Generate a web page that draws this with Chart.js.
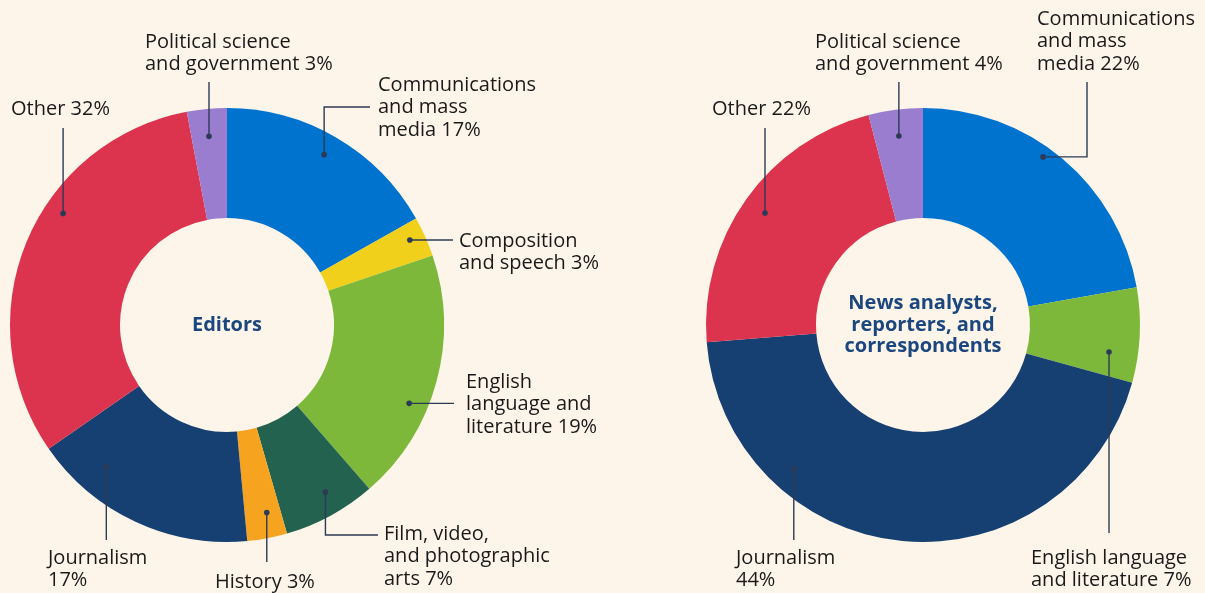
<!DOCTYPE html>
<html>
<head>
<meta charset="utf-8">
<script src="https://cdn.jsdelivr.net/npm/chart.js@4.4.1/dist/chart.umd.min.js"></script>
<style>
  html, body { margin: 0; padding: 0; background: #FDF5E9; }
  #wrap { position: relative; width: 1205px; height: 593px; overflow: hidden; background: #FDF5E9; }
  #wrap canvas { position: absolute; left: 0; top: 0; }
</style>
</head>
<body>
<div id="wrap">
  <canvas id="editors" width="1205" height="593"></canvas>
  <canvas id="news" width="1205" height="593"></canvas>
</div>
<script>
// ---- Editors: degree fields (share of workers, %) ----
const editorFields = [
  'Communications and mass media', 'Composition and speech',
  'English language and literature', 'Film, video, and photographic arts',
  'History', 'Journalism', 'Other', 'Political science and government'
];
const editorShares = [17, 3, 19, 7, 3, 17, 32, 3];
// label lines; {v} is replaced by the share
const editorLabelLines = [
  ['Communications', 'and mass', 'media {v}%'],
  ['Composition', 'and speech {v}%'],
  ['English', 'language and', 'literature {v}%'],
  ['Film, video,', 'and photographic', 'arts {v}%'],
  ['History {v}%'],
  ['Journalism', '{v}%'],
  ['Other {v}%'],
  ['Political science', 'and government {v}%']
];

// ---- News analysts, reporters, and correspondents ----
const newsFields = [
  'Communications and mass media', 'English language and literature',
  'Journalism', 'Other', 'Political science and government'
];
const newsShares = [22, 7, 44, 22, 4];
const newsLabelLines = [
  ['Communications', 'and mass', 'media {v}%'],
  ['English language', 'and literature {v}%'],
  ['Journalism', '{v}%'],
  ['Other {v}%'],
  ['Political science', 'and government {v}%']
];

// ---- palette per field ----
const fieldColors = {
  'Communications and mass media': '#0073CF',
  'Composition and speech': '#F1D01C',
  'English language and literature': '#7DB83A',
  'Film, video, and photographic arts': '#246250',
  'History': '#F6A320',
  'Journalism': '#163F72',
  'Other': '#DC344E',
  'Political science and government': '#9A7DCF'
};

const TEXT = '#1A1A1A';
const LEADER = '#2C3A55';
const CENTER_TEXT = '#1B477E';
const FONT = '"Open Sans", "Noto Sans", sans-serif';

// Callout geometry: t = position along the slice (0..1), f = position across
// the ring (0 inner .. 1 outer); path steps move vertically ('v') or
// horizontally ('h') to an offset from the chart centre; text anchored
// at (tx, ty) offset from centre (left edge, middle of first line).
const editorCallouts = [
  { t: 0.49, f: 0.81, path: [['v', -218], ['h', 143]], tx: 151, ty: -240 },
  { t: 0.42, f: 0.86, path: [['h', 226]], tx: 232, ty: -84 },
  { t: 0.62, f: 0.83, path: [['h', 227]], tx: 239, ty: 57 },
  { t: 0.42, f: 0.79, path: [['v', 210], ['h', 151]], tx: 157, ty: 209 },
  { t: 0.38, f: 0.77, path: [['v', 237]], tx: -12, ty: 257 },
  { t: 0.755, f: 0.72, path: [['v', 215]], tx: -179, ty: 233 },
  { t: 0.605, f: 0.83, path: [['v', -197]], tx: -216, ty: -216 },
  { t: 0.49, f: 0.75, path: [['v', -243]], tx: -82, ty: -283 }
];
const newsCallouts = [
  { t: 0.444, f: 0.905, path: [['h', 164], ['v', -243]], tx: 114, ty: -306 },
  { t: 0.717, f: 0.736, path: [['v', 208]], tx: 108, ty: 233 },
  { t: 0.728, f: 0.785, path: [['v', 215]], tx: -187, ty: 233 },
  { t: 0.4985, f: 0.788, path: [['v', -197]], tx: -211, ty: -216 },
  { t: 0.50, f: 0.76, path: [['v', -243]], tx: -108, ty: -283 }
];

const calloutPlugin = {
  id: 'callouts',
  afterDatasetsDraw(chart, args, opts) {
    const ctx = chart.ctx;
    const meta = chart.getDatasetMeta(0);
    const values = chart.data.datasets[0].data;
    ctx.save();
    opts.items.forEach((item, i) => {
      const arc = meta.data[i];
      const p = arc.getProps(['x', 'y', 'startAngle', 'endAngle', 'innerRadius', 'outerRadius'], true);
      const a = p.startAngle + (p.endAngle - p.startAngle) * item.t;
      const r = p.innerRadius + (p.outerRadius - p.innerRadius) * item.f;
      const dx = p.x + Math.cos(a) * r;
      const dy = p.y + Math.sin(a) * r;
      // leader line
      let px = dx, py = dy;
      ctx.beginPath();
      ctx.moveTo(px, py);
      item.path.forEach(([dir, off]) => {
        if (dir === 'v') py = p.y + off; else px = p.x + off;
        ctx.lineTo(px, py);
      });
      ctx.strokeStyle = LEADER;
      ctx.lineWidth = 1.4;
      ctx.stroke();
      // dot at the slice end of the leader
      ctx.beginPath();
      ctx.arc(dx, dy, 2.8, 0, Math.PI * 2);
      ctx.fillStyle = LEADER;
      ctx.fill();
      // label text
      ctx.fillStyle = TEXT;
      ctx.font = '20px ' + FONT;
      ctx.textAlign = 'left';
      ctx.textBaseline = 'middle';
      opts.lines[i].forEach((ln, k) => {
        ctx.fillText(ln.replace('{v}', values[i]), p.x + item.tx, p.y + item.ty + k * 22.5);
      });
    });
    // centre title
    const c = meta.data[0];
    ctx.fillStyle = CENTER_TEXT;
    ctx.font = 'bold 20px ' + FONT;
    ctx.textAlign = 'center';
    ctx.textBaseline = 'middle';
    const title = opts.title;
    const lh = 21.5;
    title.forEach((ln, k) => {
      ctx.fillText(ln, c.x, c.y + (k - (title.length - 1) / 2) * lh);
    });
    ctx.restore();
  }
};

function makeDonut(id, fields, shares, lines, callouts, title, padding) {
  return new Chart(document.getElementById(id), {
    type: 'doughnut',
    data: {
      labels: fields,
      datasets: [{
        data: shares,
        backgroundColor: fields.map(f => fieldColors[f]),
        borderWidth: 0
      }]
    },
    options: {
      responsive: false,
      animation: false,
      events: [],
      cutout: '49.3%',
      layout: { padding },
      plugins: {
        legend: { display: false },
        tooltip: { enabled: false },
        callouts: { items: callouts, lines, title }
      }
    },
    plugins: [calloutPlugin]
  });
}

makeDonut('editors', editorFields, editorShares, editorLabelLines, editorCallouts,
  ['Editors'], { left: 10, top: 108, right: 761, bottom: 51 });
makeDonut('news', newsFields, newsShares, newsLabelLines, newsCallouts,
  ['News analysts,', 'reporters, and', 'correspondents'], { left: 706, top: 108, right: 65, bottom: 51 });
</script>
</body>
</html>
